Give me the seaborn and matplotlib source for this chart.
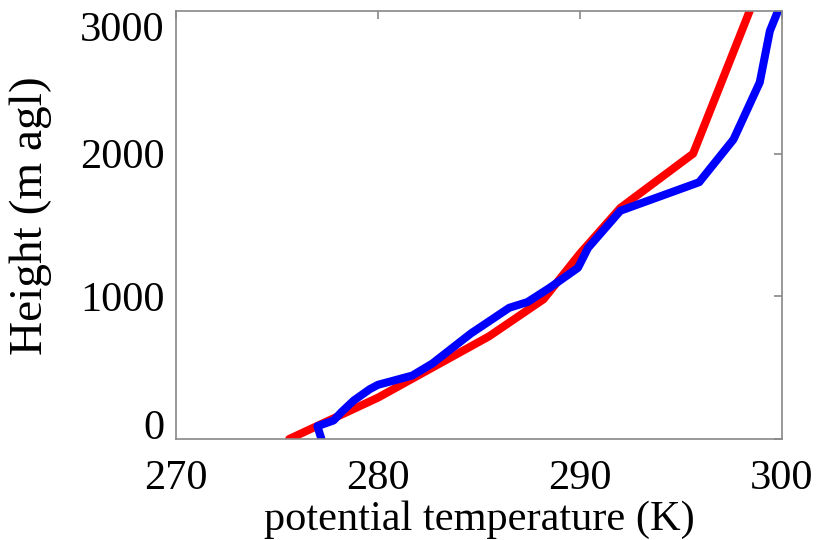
import numpy as np
import pandas as pd
import matplotlib
matplotlib.use("Agg")
import matplotlib.pyplot as plt
import seaborn as sns

# profiles (potential temperature in K, height in m agl)
red_theta = [275.6, 280.0, 285.5, 288.2, 290.0, 292.0, 295.6, 298.4]
red_height = [0, 290, 720, 980, 1300, 1620, 2000, 3000]

blue_theta = [277.2, 277.0, 277.8, 278.2, 278.8, 279.6, 280.0, 281.7, 282.7, 284.6,
              286.5, 287.4, 288.5, 289.9, 290.4, 292.0, 295.9, 297.6, 298.9, 299.4, 299.8]
blue_height = [0, 90, 130, 190, 270, 350, 380, 445, 530, 740,
               920, 960, 1060, 1200, 1340, 1600, 1800, 2100, 2500, 2860, 3000]

x_ticks = [270, 280, 290, 300]
y_ticks = [0, 1000, 2000, 3000]

sns.set_theme(style="white")
plt.rcParams['font.family'] = ['Liberation Serif', 'DejaVu Serif']

df_red = pd.DataFrame({'theta': red_theta, 'height': red_height})
df_blue = pd.DataFrame({'theta': blue_theta, 'height': blue_height})

fig = plt.figure(figsize=(8.16, 5.4), dpi=100)
ax = fig.add_axes([0.2157, 0.187, 0.7426, 0.7926])

sns.lineplot(data=df_red, x='theta', y='height', sort=False, estimator=None,
             color='#ff0000', linewidth=5.8, ax=ax)
sns.lineplot(data=df_blue, x='theta', y='height', sort=False, estimator=None,
             color='#0000ff', linewidth=5.8, ax=ax)

ax.set_xlim(270, 300)
ax.set_ylim(0, 3000)
ax.set_xticks(x_ticks)
ax.set_yticks(y_ticks)
ax.tick_params(direction='in', length=6, width=1.2, colors='#888888',
               labelcolor='black', labelsize=30.5, top=True, right=True)
ax.tick_params(axis='y', pad=8)
ax.tick_params(axis='x', pad=15)

# end labels on the y axis sit inside the axis range
ylabels = ax.get_yticklabels()
ylabels[0].set_va('baseline')
ylabels[-1].set_va('top')

for s in ax.spines.values():
    s.set_color('#888888')
    s.set_linewidth(1.2)

ax.set_xlabel('potential temperature (K)', fontsize=30.5, color='black')
ax.set_ylabel('Height (m agl)', fontsize=34, color='black')
ax.xaxis.set_label_coords(0.5, -0.143)
ax.yaxis.set_label_coords(-0.205, 0.523)

fig.savefig('out.png', dpi=100)
